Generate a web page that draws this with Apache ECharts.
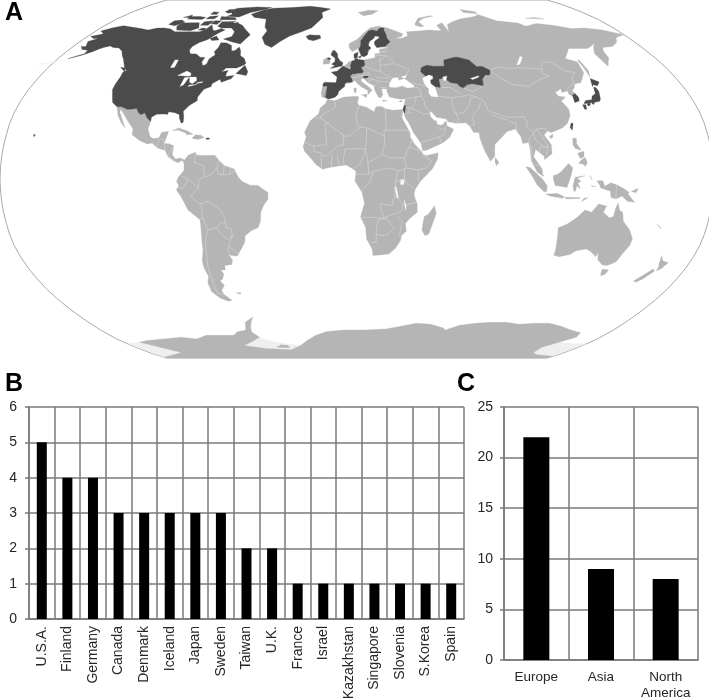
<!DOCTYPE html>
<html>
<head>
<meta charset="utf-8">
<title>Country counts</title>
<style>
  html, body { margin: 0; padding: 0; background: #fff; }
  #chart { width: 709px; height: 700px; }
</style>
<script src="https://cdn.jsdelivr.net/npm/echarts@6/dist/echarts.min.js"></script>
</head>
<body>
<div id="chart"></div>
<script>
// panel B
const countries = ['U.S.A.', 'Finland', 'Germany', 'Canada', 'Denmark', 'Iceland', 'Japan', 'Sweden', 'Taiwan', 'U.K.', 'France', 'Israel', 'Kazakhstan', 'Singapore', 'Slovenia', 'S.Korea', 'Spain']
const countryCounts = [5, 4, 4, 3, 3, 3, 3, 3, 2, 2, 1, 1, 1, 1, 1, 1, 1]

// panel C
const continents = ['Europe', 'Asia', 'North\nAmerica']
const continentCounts = [22, 9, 8]

// map outlines, [lon, lat]. Longitudes run past 180 for Chukotka because the map is centred on 10E
const northAmerica = [[-164,54.6],[-158,56.2],[-154,58],[-152,59.2],[-150,60],[-147,60.8],[-144,60],[-140,59.8],[-136,58.2],[-133,56],[-130.5,54.5],[-128,52.5],[-125,50],[-123,49],[-124.5,48.3],[-124,46],[-124.3,43],[-124,40.3],[-122,37],[-120.5,34.5],[-117.2,32.5],[-114.8,32.5],[-111,31.3],[-108.2,31.5],[-106.5,31.8],[-104.5,29.6],[-103,29],[-101.4,29.8],[-99.5,27.5],[-97.2,25.9],[-97.3,27.8],[-95,29.2],[-91,29.3],[-89.3,29.1],[-89,30.3],[-85.5,29.8],[-83,29],[-82.7,27.5],[-81.2,25.2],[-80.2,25.5],[-80.5,28],[-81.4,30.5],[-79,33.2],[-75.6,35.3],[-76,37],[-74,40.5],[-70.5,41.7],[-70.7,43],[-67,45],[-65.8,43.6],[-61,45.3],[-60,46.8],[-64.5,46.3],[-64.8,47.8],[-64.3,49],[-68,48.5],[-66,50.2],[-60,50.2],[-56.5,51.6],[-55.8,52.5],[-58,54.8],[-61,56],[-62.5,58.5],[-64.5,60.3],[-66,58.5],[-68,58.3],[-70,61],[-74,62.3],[-78,62.4],[-77.5,60],[-78.5,58],[-76.7,56.5],[-79,54.5],[-78.8,52],[-80.5,51.3],[-82.3,53],[-82,55.2],[-85,55.3],[-88.5,56.8],[-92.5,57],[-94.6,58.8],[-94.5,60.5],[-92,62.5],[-88,64],[-86,66],[-84,67.5],[-81.5,69],[-85,69.8],[-88,68.5],[-90,69],[-94,71.8],[-95.5,69],[-98,68],[-105,68],[-110,68],[-115,68],[-120,69.5],[-125,70],[-130,70],[-135,69],[-141,69.7],[-148,70.4],[-156.5,71.3],[-162,70],[-166.5,68.4],[-162,67],[-164,66.5],[-168,65.6],[-164,64.5],[-161,64.5],[-165,63],[-162,60.5],[-165,60.5],[-162,59],[-158,58.7],[-157.5,57],[-161,55.8]]
const baffin = [[-65,61.8],[-71,62.8],[-78,64.3],[-73.5,65.5],[-74,68],[-78,70],[-85,70],[-89,71],[-89,73.5],[-80,73.7],[-72,71.5],[-67,69],[-62,66.5]]
const victoriaIsland = [[-105,68.5],[-115,68.9],[-118,71],[-118,72.8],[-110,73],[-105,73],[-101,70]]
const banksIsland = [[-125.5,72],[-120,71.3],[-116,73.3],[-120,74.4],[-125,74]]
const ellesmere = [[-90,76.5],[-80,76.2],[-75,79],[-65,81.5],[-62,82.5],[-75,83],[-90,82],[-92,80],[-88,78]]
const axelHeiberg = [[-96,79.5],[-92,78.5],[-87,79.5],[-90,81.3],[-95,81]]
const devonIsland = [[-80,74.6],[-92,74.6],[-94,76.6],[-82,75.8]]
const melvilleIsland = [[-117,75],[-106,74.8],[-105,76],[-110,76.5],[-117,76.5]]
const bathurstIsland = [[-103,75],[-97,75.2],[-97,77],[-103,76.5]]
const princePatrick = [[-122,76],[-116,76],[-118,77.5]]
const ringnesIslands = [[-105,78],[-100,77.8],[-100,79],[-105,79.5]]
const princeOfWales = [[-102,71.5],[-96.5,71.5],[-96,74],[-102,73.5]]
const somerset = [[-96,72.5],[-91,72],[-90,74],[-95,74]]
const kingWilliam = [[-100,68.9],[-95.5,68.7],[-96,70],[-99,69.9]]
const bylotIsland = [[-80,72.8],[-76,72.8],[-80,73.7]]
const southampton = [[-85,63.5],[-80.5,63.8],[-84,65.8],[-87,64.5]]
const newfoundland = [[-59.3,47.7],[-53,46.7],[-52.8,48.5],[-55.8,51.5]]
const vancouverIsland = [[-128,50.6],[-123.5,48.4],[-125,50.2]]
const greenland = [[-44,60],[-49,61.5],[-53,65],[-52,68.5],[-55,70.5],[-58,75],[-68,76],[-73,78],[-66,80.8],[-60,82],[-45,82.5],[-30,83.5],[-20,82.5],[-12,81.5],[-18,79],[-16,76],[-20,72],[-22,70],[-28,68],[-35,65.8],[-40,63]]
const greatBritain = [[-5.5,50],[1.3,51.2],[1.7,52.7],[0,53.5],[-1.6,55.2],[-2,57],[-3.8,58.6],[-5,58.6],[-6,56.5],[-3.2,54.8],[-3.1,53.3],[-5,52],[-3,51.4]]
const northernIreland = [[-7.5,55.2],[-5.6,54.6],[-6.3,54.1],[-7.8,54.4]]
const iceland = [[-24,65.5],[-22,64],[-18.5,63.4],[-14,64.6],[-14.8,66.2],[-18,66.2],[-22,66.4]]
const france = [[-1.7,43.4],[3.1,42.5],[4,43.5],[7.5,43.8],[7,45.5],[6,46.3],[7.5,47.6],[8.2,49],[6,49.5],[2.5,51],[1.5,50.9],[-1.5,48.7],[-4.7,48.3],[-1.2,46]]
const spain = [[-8.9,43],[-8.8,41.9],[-6.5,41.7],[-7,39.5],[-7.4,37.2],[-6,36.3],[-5.3,36.1],[-2,36.8],[-0.5,38],[0,39.5],[3.2,41.8],[3.1,42.5],[-1.7,43.4],[-8,43.7]]
const germany = [[6,51],[7,53.5],[8.7,53.9],[9,54.8],[11,54.2],[14.2,53.9],[14.6,51.5],[12.3,50.3],[13.7,48.7],[13,47.6],[10,47.4],[7.6,47.6],[8.2,49],[6.3,49.5]]
const denmark = [[8.2,55],[8.2,56.8],[10.6,57.7],[10.3,56],[10,55]]
const zealand = [[11,55.5],[12.5,56],[12.2,55],[11,55]]
const sweden = [[11.1,59],[12.7,56],[14.3,55.5],[16.5,56.5],[16.7,58.5],[18.8,59.8],[17.2,61],[18,63],[21,64.5],[22,65.8],[24,65.8],[23.5,68],[20.5,69],[18,68.5],[15,66],[12.5,63.5],[12.3,61]]
const finland = [[22.5,60],[25,60.2],[28,60.6],[31.5,62.9],[29.8,64.5],[29.5,67],[28.5,69],[29,70],[26,70],[23.5,68.3],[20.8,69],[24,65.8],[25,65],[21.4,63],[21.3,61.5]]
const slovenia = [[13.6,45.5],[15.6,45.5],[16.5,46.5],[13.7,46.5]]
const kazakhstan = [[46.6,48.5],[49,46.4],[51,47],[53,46.8],[53,45],[51,44.5],[51,43],[52.7,41.7],[56,41.3],[56,45],[58.5,45.5],[61,44.3],[62,43.5],[66,43],[66.5,41.9],[68.5,41],[71,42.5],[74,43],[80,42.1],[80.5,45],[83,47],[85.5,47],[87,49],[83,51],[80,50.8],[77,54],[71,55.3],[69,55.3],[62,54],[61,51],[55,51],[51,51.5],[47.5,50.4]]
const israel = [[34.3,31.3],[35,29.5],[35.5,31.5],[35.7,33.2],[35,33]]
const honshu = [[130.9,34],[132.5,35.4],[136,35.7],[137,37.3],[139.5,38.5],[140.3,41.2],[141.5,41.4],[142,39.5],[140.8,36],[139.8,35],[137,34.6],[135.8,33.5],[135,34.5],[132.5,34]]
const hokkaido = [[140,41.6],[141.5,45.4],[145.3,43.8],[143,42],[141,42.5]]
const kyushu = [[130,33.5],[131.7,33.5],[131.3,31.4],[130.2,31.4]]
const shikoku = [[132.5,33.8],[134.5,34.3],[134,33.3],[132.8,32.8]]
const southKorea = [[126.3,34.5],[129,35.2],[129.4,37],[128.4,38.5],[126.6,37.7],[126.5,36]]
const taiwan = [[121,25.2],[122,25],[120.9,22],[120.1,23.2]]
const singapore = [[103.6,1.2],[104.1,1.2],[104.1,1.6],[103.6,1.6]]
const hawaii = [[-156,20.2],[-155,19.8],[-155.7,19]]
const puertoRico = [[-67.2,18.5],[-65.6,18.5],[-65.6,17.9],[-67.2,17.9]]

const mexico = [[-117.2,32.5],[-114.8,32.5],[-111,31.3],[-108.2,31.5],[-106.5,31.8],[-104.5,29.6],[-103,29],[-101.4,29.8],[-99.5,27.5],[-97.2,25.9],[-97.8,22.5],[-96,19],[-94.5,18.2],[-91.5,18.5],[-90.5,21],[-87,21.5],[-87.7,18.5],[-88.5,16],[-86,15.9],[-83.3,15],[-83.7,11],[-82,9],[-79.5,9.5],[-77.3,8.6],[-77.9,7.3],[-78.5,8.5],[-80.5,7.3],[-83,8.3],[-85.7,10],[-87.6,13],[-91.5,14],[-94.5,16.2],[-97,15.8],[-101.5,17.5],[-105.5,20],[-105.5,22.5],[-109,26],[-112.5,29.5],[-114.7,31.5],[-114.5,30],[-111,25],[-109.8,23],[-112,25],[-115,28.5]]
const southAmerica = [[-77.3,8.6],[-75.5,10.8],[-72,12],[-71.5,10.8],[-68,10.6],[-62,10.7],[-60,8.5],[-57,6],[-52,4.5],[-50,1],[-48,-1],[-44,-2.8],[-40,-2.9],[-37,-4.8],[-35,-6],[-35,-9],[-37.5,-12],[-39,-15],[-39.5,-19],[-41,-22],[-44,-23],[-48,-25.5],[-48.7,-28.5],[-52,-32.5],[-54,-34.7],[-57,-34.5],[-58.5,-34],[-57,-36.5],[-58,-38.5],[-62,-39],[-62.5,-41],[-65,-41],[-64,-42.8],[-65.5,-45],[-67.5,-46],[-66,-48],[-69,-50.5],[-68.5,-52.5],[-65.5,-55],[-68,-55.5],[-72,-54],[-75,-51],[-75,-47],[-73,-44],[-73.7,-40],[-73.5,-37],[-71.5,-32],[-71,-28],[-70.3,-20],[-70.5,-18.3],[-76,-14],[-79,-8],[-81.2,-5],[-80,-3],[-81,-1],[-80,1],[-78.5,2.5],[-77.3,4],[-77.5,7],[-77.9,7.3]]
const africa = [[-5.9,35.8],[-2,35.2],[3,36.9],[10,37.3],[11,36.8],[10.2,34.3],[11,33.2],[15,32.3],[19,30.3],[20,32.5],[23,32.7],[25,31.7],[29,31],[32,31.2],[34.2,31.3],[33.6,28],[32.5,30],[33.5,27.5],[35.5,24],[37.2,21],[37.5,18.5],[39.5,15.5],[43,12.3],[43.2,11.5],[45,10.5],[51.2,11.8],[50.8,9],[48,4.5],[42,-1],[39.5,-4.5],[38.8,-6.5],[39.5,-9],[40.5,-11],[40.7,-15],[37,-17.8],[34.8,-20],[35.5,-23.5],[33,-25.5],[32.8,-27.5],[30.5,-31],[27,-33.8],[22,-34.2],[18.5,-34.5],[18,-31.5],[15,-27],[14.5,-22],[11.8,-17],[13.8,-11],[12.5,-6],[9,-1],[9.5,3.5],[8,4.5],[4.5,6.3],[1,5.9],[-4,5.2],[-7.5,4.4],[-11,6.8],[-13.5,9.5],[-16.7,12.5],[-17.4,14.7],[-16,19],[-17,21],[-14.5,26],[-10,29.5],[-9.5,32],[-6.8,34]]
const madagascar = [[49.3,-12],[50.4,-15.5],[47.2,-24.8],[45.2,-25.5],[43.5,-23],[44.3,-17],[46.5,-15.8]]
const eurasia = [[-9,37],[-9.5,38.7],[-8.8,43],[-1.5,43.5],[-1.2,46],[-4.7,48.3],[-1.5,48.7],[1.5,50.8],[4,52],[5,53.2],[8.5,53.7],[8.2,56.5],[10.7,57.7],[10.2,55],[11,54],[14,54],[18.5,54.7],[21,55.2],[21,57],[24,57.2],[24,59.2],[28,59.6],[30,60],[25,60.2],[22.5,60],[21.3,61.5],[21.3,63],[25,65],[22,65.8],[18,63],[17,61],[18.8,59.8],[16.5,57],[14.5,56],[12.8,55.5],[11,58.8],[10.5,59.5],[7,58],[5,60],[5,62],[10,64],[14,67],[19,70],[25,71],[31,70.2],[41,67],[40,65.7],[35,64.5],[40,64.7],[44,66],[44,68],[54,68.5],[60,69],[68,68.5],[67,71.5],[72,73],[73,68],[75,72],[80,73.5],[87,75],[100,76.5],[104.5,77.7],[113,74],[127,72.8],[130,71],[140,72.5],[150,71.5],[160,69.7],[170,70],[180,69],[190,66.5],[182,65],[178,62.5],[172,60.5],[165,60],[163,58],[162,55],[157,51],[156,57],[160,60.5],[163,62],[155,59.5],[143,59.5],[135.5,54.7],[141,53],[140,48],[135,43.5],[131,42.8],[129.5,41],[127.5,39.7],[129.4,37],[129,35.2],[126.3,34.5],[126.6,37.5],[125,38],[125,39.7],[121.5,39],[122,40.7],[118,39],[119,37.3],[122.5,37],[119.3,35],[121.8,31.5],[121.5,28.5],[119,25],[116,23],[113,22],[110,21],[108,21.6],[106,19.8],[109,15.5],[109,11.5],[105,8.7],[104.8,10.3],[100.8,13.4],[99.5,10],[103.5,4.5],[103.8,1.4],[101,3],[98.3,8],[98,14],[97.5,16.5],[94.5,16],[94,19],[91.7,22.5],[89,21.8],[87,21.3],[85,19.5],[80.3,15.5],[80,13],[79.8,10.3],[77.5,8],[75,12.5],[73,18],[72.7,21],[70,21],[68.5,23.5],[66.5,25.3],[61.5,25.1],[57.3,25.8],[56.5,27],[51.5,27.8],[49,30.4],[48,30],[48.5,28],[50,26.5],[51.3,26.1],[51.5,24.5],[54,24.2],[56.3,26.2],[56.6,24],[59.8,22.4],[57.7,19],[55,17],[52,15.5],[45,12.8],[43.3,12.7],[42.7,16],[39,21],[37,25],[35,28],[34.8,29.5],[34.2,31.3],[34.9,32.8],[36,36],[32.5,36.1],[30.5,36.4],[27.5,37],[26.3,39.5],[26.5,40.5],[24,40.8],[23.5,40],[24,38],[22.8,36.5],[21.5,37],[19.5,40.5],[19.5,42],[16,43.5],[13.7,45.5],[12.3,45.3],[12.5,44],[16,41.8],[18.4,40],[17,39],[16,38],[15.8,40],[12.5,41.5],[10.3,43],[8.8,44.4],[6,43.2],[3.2,43.3],[3.2,41.8],[0,39.5],[-0.5,38],[-2,36.8],[-5.5,36]]
const ireland = [[-10,52],[-6.2,52.2],[-6,54],[-7.5,55.2],[-10,54.2]]
const cuba = [[-85,21.8],[-82,23],[-77,21.5],[-74.2,20.2],[-77.5,19.9],[-78,20.7],[-82,22]]
const hispaniola = [[-74.5,18.4],[-73,19.9],[-69.9,19.7],[-68.4,18.6],[-71.5,17.8]]
const novayaZemlya = [[51.5,71.5],[55,70.7],[57.5,71],[55,73.5],[60,75.5],[68.5,76.8],[66,77],[56,75.5],[52,72.5]]
const svalbard = [[11,79],[15,77],[22,78],[27,80],[20,80.5]]
const severnayaZemlya = [[95,79],[105,78.2],[105,79.5],[95,81]]
const newSiberia = [[137,75.5],[150,75],[145,76]]
const sakhalin = [[142,46],[143.5,49],[143,54],[142,54],[142,50]]
const sicily = [[12.5,38],[15.6,38.2],[15,36.7]]
const sardinia = [[8.3,41],[9.7,41],[9.5,39],[8.5,39]]
const crete = [[23.5,35.6],[26.3,35.3],[24,34.9]]
const cyprus = [[32.3,35],[34.5,35.6],[33.5,34.6]]
const sriLanka = [[80,9.7],[81.8,7.5],[80.5,6],[79.8,7.5]]
const hainan = [[108.7,19.3],[110.5,20],[110.3,18.7],[109,18.2]]
const sumatra = [[95.3,5.5],[97.5,5.2],[103.5,0],[106,-3],[105.8,-5.8],[104.5,-5.8],[101,-2.8],[98,1.8]]
const java = [[105.2,-6.8],[108.5,-6.7],[111,-6.4],[114.5,-7.8],[114.4,-8.7],[108,-7.8]]
const borneo = [[109,1.5],[111,2],[113,3.3],[117,7],[119,5],[117.8,1],[116,-3.8],[114,-3.5],[110,-2.9],[109,0]]
const sulawesi = [[119.5,-5.5],[119,-3],[120,0.8],[125,1.5],[121,0.3],[123,-1],[121.5,-1.8],[122.8,-4.5],[121,-3],[120.3,-5.5]]
const newGuinea = [[131,-0.8],[134,-0.8],[135,-3.3],[138,-1.7],[141,-2.6],[145,-4.5],[147.5,-6],[147,-6.8],[150.7,-10.5],[147,-10],[144,-7.7],[141,-9],[138.5,-8.3],[138,-5.5],[133,-4],[132.5,-2.8]]
const luzon = [[120.5,18.5],[122.3,18.3],[122,16],[124,13],[121,13.7],[120,15.5]]
const mindanao = [[122,7],[123.7,8.7],[125.5,9.7],[126.5,7.5],[125.5,5.8],[124,6.8]]
const visayas = [[122,11.7],[125.3,12.5],[125,10],[123,9.2]]
const timor = [[123.5,-10.3],[127,-8.4],[125,-8.7]]
const lesserSunda = [[115,-8.2],[119,-8.3],[122.8,-8.3],[122.8,-8.8],[116,-9]]
const halmahera = [[127.5,1.5],[128.5,-0.5],[128,1]]
const seram = [[128,-3],[130.8,-3.3],[129,-3.4]]
const newBritain = [[148.5,-5.6],[152,-4.2],[151,-6.2]]
const australia = [[113.7,-22],[114.2,-26],[115,-31.5],[115,-34.3],[118,-35],[123.5,-34],[126,-32.3],[131,-31.5],[134,-32.7],[137.7,-35],[138,-33],[139.7,-36.5],[143.5,-38.8],[146.3,-39],[150,-37.3],[151.3,-33.7],[153.2,-30],[153.5,-27],[150.8,-23],[146.5,-19],[145.3,-15],[143.5,-14],[142.5,-10.8],[141.5,-13],[141,-17],[139,-17.5],[135.5,-15],[136.7,-12.2],[132.5,-11.3],[129.5,-15],[126,-14],[122.3,-17.5],[118,-20.3]]
const tasmania = [[144.7,-40.7],[148.3,-40.9],[148,-43],[146,-43.6],[145.3,-42.5]]
const newZealandNorth = [[172.7,-34.5],[174.8,-36.8],[178.5,-37.7],[176.8,-40.5],[175,-41.5],[174.8,-39.5],[174,-38.5]]
const newZealandSouth = [[172.5,-40.6],[174.2,-41.5],[171,-45],[168.5,-46.6],[166.5,-46],[170,-43]]
const falklands = [[-61,-51.5],[-58,-51.5],[-59,-52.2]]
const newCaledonia = [[164,-20.2],[167,-22.3],[166,-22]]
const antarctica = [[-158,-77],[-150,-76],[-135,-75],[-120,-74],[-110,-75],[-100,-73],[-90,-73],[-80,-73],[-75,-71],[-68,-70],[-65,-66],[-58,-63.3],[-60,-65],[-63,-68],[-65,-71],[-62,-74],[-72,-77],[-80,-79],[-65,-81],[-45,-82],[-35,-79],[-28,-76],[-20,-73],[-12,-71],[0,-70],[15,-70],[30,-69.5],[40,-68],[50,-66.5],[60,-67],[70,-69],[72,-70],[80,-67.5],[90,-66.5],[100,-66],[110,-66],[120,-67],[130,-66.5],[140,-66.5],[150,-68],[160,-70],[170,-71.5],[172,-74],[166,-77],[160,-80],[163,-84],[170,-86],[190,-88],[190,-90],[-170,-90],[-170,-89],[-142,-84],[-150,-80]]
const berknerIsland = [[-50,-78.5],[-45,-79],[-45,-80.5],[-55,-80]]

const rossShelfEast = [[160,-79],[166,-77],[180,-78],[190,-78],[190,-88],[170,-86],[163,-84]]
const rossShelfWest = [[-170,-78],[-158,-77],[-150,-80],[-142,-84],[-170,-89]]
const weddellShelf = [[-62,-74],[-72,-77],[-80,-79],[-65,-81],[-45,-82],[-35,-79],[-45,-78],[-60,-75.5]]
const aleutians = [[-178,51.8],[-170,52.8],[-165,54],[-165,54.4],[-170,53.2],[-178,52.1]]

const blackSea = [[28,41.5],[28,43],[30,45.5],[33,45.8],[33.5,44.5],[36.5,45.2],[38,44.5],[41.5,42],[41.5,41.5],[38,41],[35,42],[31.5,41.2]]
const azovSea = [[35,46],[38.5,47],[37,45.5]]
const caspianSea = [[47,45.5],[51,47],[53,46],[51,44.5],[51,43],[53,41.5],[53.8,37],[50,37.3],[49,39],[49.5,40.5],[47.5,43]]
const aralSea = [[58.5,46],[61,46.5],[60,44.5],[58.8,44.5]]
const balkhash = [[74,45.4],[79,46.6],[79,46],[75,44.9]]
const baikal = [[104,51.6],[109,55.7],[110,55.2],[106,52]]
const lakeSuperior = [[-92,46.8],[-88,48.8],[-85,47.8],[-84.7,46.5],[-87,46.5]]
const lakeMichigan = [[-87.8,41.7],[-87.5,45.7],[-85,46],[-86.2,42.5]]
const lakeHuron = [[-84.7,46],[-81,46],[-80,44.5],[-81.7,43],[-83.5,43.7]]
const lakeErie = [[-83.3,41.7],[-79,42.6],[-79,43],[-83,42.4]]
const lakeOntario = [[-79.7,43.3],[-76.3,44],[-76.3,43.5],[-79,43.1]]
const lakeWinnipeg = [[-98.8,50.5],[-99,54],[-97,54],[-96.5,50.5]]
const lakeVictoria = [[32,-0.3],[34,-0.3],[33.5,-2.5],[32,-2.5]]
const lakeMalawi = [[33.9,-9.5],[35,-12],[34.8,-14.2],[34.2,-12]]
const lakeTanganyika = [[29,-3.5],[29.8,-3.5],[31,-8.5],[30.3,-8.5]]

const darkRings = [northAmerica, baffin, victoriaIsland, banksIsland, ellesmere, axelHeiberg, devonIsland, melvilleIsland, bathurstIsland, princePatrick, ringnesIslands, princeOfWales, somerset, kingWilliam, bylotIsland, southampton, newfoundland, vancouverIsland, greenland, greatBritain, northernIreland, iceland, france, spain, germany, denmark, zealand, sweden, finland, slovenia, kazakhstan, israel, honshu, hokkaido, kyushu, shikoku, southKorea, taiwan, singapore, hawaii, puertoRico]
const lightRings = [mexico, southAmerica, africa, madagascar, eurasia, ireland, cuba, hispaniola, novayaZemlya, svalbard, severnayaZemlya, newSiberia, sakhalin, sicily, sardinia, crete, cyprus, sriLanka, hainan, sumatra, java, borneo, sulawesi, newGuinea, luzon, mindanao, visayas, timor, lesserSunda, halmahera, seram, newBritain, australia, tasmania, newZealandNorth, newZealandSouth, falklands, newCaledonia, antarctica, berknerIsland]
const iceRings = [rossShelfEast, rossShelfWest, weddellShelf, aleutians]
const waterRings = [blackSea, azovSea, caspianSea, aralSea, balkhash, baikal, lakeSuperior, lakeMichigan, lakeHuron, lakeErie, lakeOntario, lakeWinnipeg, lakeVictoria, lakeMalawi, lakeTanganyika]

// borders, drawn as thin pale lines over the land
const borderLines = [
  [[-2,35],[-1.2,32.5],[-8.7,28.7],[-8.7,27.3]],
  [[-8.7,27.3],[-13,27.7]],
  [[-8.7,27.3],[-4.8,25],[1.2,21],[4,19.2],[6,19.4],[12,23.5]],
  [[-4.8,25],[-6.5,25],[-5.5,15.5],[-12,14.8],[-16.5,16.3]],
  [[1.2,21],[3.2,19],[3.2,15.4],[0.5,15],[-5.5,10.5],[-8,10.3],[-8.3,11.8],[-12,12.4],[-12,14.8]],
  [[9.5,30],[11.5,33]],
  [[9.5,30],[10,24.5],[12,23.5],[15,23],[24,19.5],[24,22],[25,22],[25,31.5]],
  [[25,22],[36.8,22]],
  [[15,23],[14.5,13],[13.6,13.7]],
  [[24,19.5],[24,15.7],[22.5,11],[18.5,8.9],[15.5,7.5],[14.5,12.5]],
  [[2.7,6.3],[3.6,11.7],[4,13.5],[13.6,13.7],[14.2,12],[11.5,6.7],[8.6,4.7]],
  [[22.5,11],[27,9.5],[34,9.5],[36.5,14.3],[38.5,18]],
  [[27,5],[30.8,3.6],[34,4.5],[35,5],[34,9.5]],
  [[15.5,7.5],[16,2.2],[18.5,3.5],[27,5]],
  [[12.5,-5.9],[13,-4.5],[16,-2],[18.5,3.5]],
  [[30.8,3.6],[29.5,-1],[29,-8],[30.5,-8.2],[28.5,-9],[28,-12],[22,-11],[22,-13],[24,-17.5]],
  [[12,-17.2],[24,-17.5],[28,-16],[30.5,-15.5],[33,-14],[33,-11],[30.5,-8.2]],
  [[30.8,-17],[33,-19],[32,-26]],
  [[35,-11.5],[40.5,-10.5]],
  [[29.5,-1],[34,-1],[37.7,-3.5],[39.4,-4.7]],
  [[34,-1],[34,4.5]],
  [[35,5],[41,4],[41,-1.5]],
  [[41,4],[45,5],[48,8],[43,11]],
  [[36.5,14.3],[43,12.5]],
  [[20,-22],[20,-28.5],[17,-28.5]],
  [[20,-22],[21,-18.3],[25,-17.8],[29,-22],[26,-25],[23,-25.5],[20,-25]],
  [[-3,5],[-2.7,11]],
  [[1,6],[0,11]],
  [[-8,4.5],[-8,10]],
  [[9.5,2.2],[16,2.2]],
  [[-71.5,12],[-72.5,7.5],[-67.5,6],[-67,1.2]],
  [[-67,1.2],[-70,-0.5],[-70,-4.2],[-75,-0.1],[-78.5,1.3]],
  [[-75,-0.1],[-78.5,-4.5],[-80.3,-3.5]],
  [[-70,-4.2],[-74,-7.5],[-70.5,-11],[-69,-11]],
  [[-69,-11],[-69,-17],[-70.4,-18.3]],
  [[-69,-11],[-65.3,-10],[-60,-13.5],[-58,-16.3],[-57.5,-20],[-60,-19.5],[-62.5,-22],[-67,-23],[-69,-17]],
  [[-67,-23],[-69,-27],[-70,-33],[-71.5,-40],[-72,-48],[-72,-52],[-68.5,-52.3]],
  [[-62.5,-22],[-58,-27.3],[-54.6,-25.6],[-55,-22.3],[-57.5,-22],[-57.5,-20]],
  [[-54.6,-25.6],[-57.5,-30],[-58.3,-34]],
  [[-57.5,-30.2],[-53.3,-33.7]],
  [[-60,8.5],[-60.8,5],[-60,2],[-56,2],[-54,2.2],[-51.7,4]],
  [[-57,6],[-57.5,2]],
  [[-54,5.8],[-54,2.2]],
  [[-67,1.2],[-64,1.5],[-60.8,5]],
  [[-92,14.5],[-91,17.8],[-89,17.8],[-88.2,15.7],[-87.5,13]],
  [[-83.2,15],[-85.7,11],[-83,8.3]],
  [[36,36],[42,37],[44.5,37.3],[44.8,39.7],[43.5,41.1],[41.5,41.5]],
  [[44.5,37.3],[46,35],[46,33],[48.5,30]],
  [[48,29.5],[44.7,29.2],[39,32],[36,32.3]],
  [[39,32],[41,34.3],[42,37]],
  [[39,32],[37,31],[38,30],[35,29.4]],
  [[43,16.5],[52,19],[55,20],[56,24]],
  [[52,23],[55,22]],
  [[52,19],[53,16.7]],
  [[61,36.6],[61,31.5],[63,27],[61.5,25]],
  [[54,37.3],[61,36.6]],
  [[61,29.5],[66,29.8],[70,33.5],[71,36.5],[74.5,37]],
  [[61,36.6],[64,37],[67,37.3],[71,38],[74.5,37]],
  [[56,41.3],[61.5,41.2],[66.5,38]],
  [[68.5,41],[73,39.5],[74,39.5],[80,42.1]],
  [[40,43.5],[48,41.8]],
  [[24,48],[30,45.5]],
  [[24,51.5],[32,52.3],[40,49.7],[38.2,47.1]],
  [[23.5,53.8],[28,56],[32,53]],
  [[14.6,51],[18.8,49.5],[24,48.5],[23.5,50.3],[23.5,54]],
  [[21,56.3],[28,56]],
  [[24,57.9],[28,57.8],[28,59.5]],
  [[20.5,46],[28,45.4]],
  [[22.5,44],[28,43.8]],
  [[22.5,41.3],[26.3,41.3]],
  [[9.5,47.5],[17,48],[16.5,46.7],[9.5,47]],
  [[7,45.5],[13.7,46.5]],
  [[13.7,45.5],[19,45],[22.5,44],[20,42],[19.5,42.5]],
  [[19,45],[16,43.7]],
  [[-7,42],[-7,37.2]],
  [[2.5,51],[6,50],[6,51]],
  [[87,49],[92,50.7],[98,50],[102,50.3],[106,50.3],[114,50],[117,49.5],[120,53],[125,53],[130.5,48.5],[135,48.3],[131,45],[131,42.8]],
  [[87,49],[91,45.5],[96,42.7],[105,41.7],[112,44.7],[119.5,46.7],[116,47.8],[117,49.5]],
  [[74.5,37],[78,35],[79,31],[81,30.2],[88,27.8],[92,27.8],[97.3,28.2],[98.5,25],[97.5,24],[99.5,22],[101.5,21.2],[102.5,22.5],[106.5,22.8],[108,21.6]],
  [[80,29],[88,26.5]],
  [[89,26],[92.5,25],[92.3,21]],
  [[101,21],[97.7,17.5],[99,12],[98.5,10]],
  [[101,21],[101,17.7],[105.5,14.3],[107.5,14.5],[105,19],[102.5,22.5]],
  [[102.7,12],[103,14.3],[107.5,14.5],[106,11]],
  [[124.5,40],[128,42],[130.5,42.5]],
  [[68,23.8],[71,24.5],[70,28],[74.5,32],[76,34.5]],
  [[100.2,6.5],[102,6]],
  [[141,-2.6],[141,-9]]
]

// Robinson table, one row every 5 degrees of latitude
const robinsonLats = [0, 5, 10, 15, 20, 25, 30, 35, 40, 45, 50, 55, 60, 65, 70, 75, 80, 85, 90]
const robinsonLength = [1, 0.9986, 0.9954, 0.99, 0.9822, 0.973, 0.96, 0.9427, 0.9216, 0.8962, 0.8679, 0.835, 0.7986, 0.7597, 0.7186, 0.6732, 0.6213, 0.5722, 0.5322]
const robinsonDepth = [0, 0.062, 0.124, 0.186, 0.248, 0.31, 0.372, 0.434, 0.4958, 0.5571, 0.6176, 0.6769, 0.7346, 0.7903, 0.8435, 0.8936, 0.9394, 0.9761, 1]

const centerLon = 10
const mapHalfWidth = 357
const mapHalfHeight = 179

const lookup = (table, lat) => {
  const p = Math.min(Math.abs(lat), 90) / 5
  const i = Math.min(Math.floor(p), 17)
  return table[i] + (table[i + 1] - table[i]) * (p - i)
}

const robinson = {
  project: ([lon, lat]) => [
    mapHalfWidth + mapHalfWidth * lookup(robinsonLength, lat) * (lon - centerLon) / 180,
    mapHalfHeight - mapHalfHeight * lookup(robinsonDepth, lat) * Math.sign(lat)
  ],
  unproject: ([x, y]) => {
    const d = Math.min(Math.abs(y - mapHalfHeight) / mapHalfHeight, 1)
    let i = 0
    while (i < 17 && robinsonDepth[i + 1] < d) i++
    const absLat = 5 * (i + (d - robinsonDepth[i]) / (robinsonDepth[i + 1] - robinsonDepth[i]))
    const lat = y > mapHalfHeight ? -absLat : absLat
    return [centerLon + 180 * (x - mapHalfWidth) / mapHalfWidth / lookup(robinsonLength, lat), lat]
  }
}

const frameRing = [
  ...robinsonLats.slice().reverse().map(lat => [centerLon + 180, lat]),
  ...robinsonLats.slice(1).map(lat => [centerLon + 180, -lat]),
  ...robinsonLats.slice().reverse().map(lat => [centerLon - 180, -lat]),
  ...robinsonLats.slice(1).map(lat => [centerLon - 180, lat])
]

const feature = (name, rings) => ({
  type: 'Feature',
  properties: { name },
  geometry: { type: 'MultiPolygon', coordinates: rings.map(r => [[...r, r[0]]]) }
})

echarts.registerMap('world', {
  type: 'FeatureCollection',
  features: [
    feature('frame', [frameRing]),
    feature('ice', iceRings),
    feature('land', lightRings),
    feature('dark', darkRings),
    feature('water', waterRings)
  ]
})

const chart = echarts.init(document.getElementById('chart'), null, { renderer: 'canvas' })

const labelFont = { fontFamily: 'Liberation Sans, Arial, sans-serif', fontSize: 13.5, color: '#262626' }
const gridLine = { color: '#7a7a7a', width: 1.5 }
const panelTitle = (text, left, top) => ({
  text, left, top, padding: 0,
  textStyle: { fontFamily: 'Liberation Sans, Arial, sans-serif', fontSize: 25, fontWeight: 'bold', color: '#000' }
})

const plainColor = color => ({ itemStyle: { areaColor: color, borderColor: color, borderWidth: 0.3 } })

chart.setOption({
  animation: false,
  backgroundColor: '#fff',
  title: [panelTitle('A', 5, 1), panelTitle('B', 5, 372), panelTitle('C', 457, 372)],
  geo: {
    map: 'world',
    projection: robinson,
    left: 0,
    top: 0,
    width: mapHalfWidth * 2,
    height: mapHalfHeight * 2,
    silent: true,
    roam: false,
    label: { show: false },
    itemStyle: { areaColor: '#b5b5b5', borderColor: '#b5b5b5', borderWidth: 0.3 },
    regions: [
      { name: 'frame', itemStyle: { areaColor: '#fff', borderColor: '#a9a9a9', borderWidth: 1 } },
      { name: 'ice', ...plainColor('#efefef') },
      { name: 'land', ...plainColor('#b5b5b5') },
      { name: 'dark', ...plainColor('#4b4b4b') },
      { name: 'water', ...plainColor('#ffffff') }
    ]
  },
  // the Kazakhstan label runs to the page edge, so the grid must not shrink to fit it
  grid: [
    { left: 29, top: 407, width: 435, height: 212, outerBoundsMode: 'none' },
    { left: 504, top: 407, width: 194, height: 253, outerBoundsMode: 'none' }
  ],
  xAxis: [0, 1].map(i => ({
    type: 'category',
    gridIndex: i,
    data: i === 0 ? countries : continents,
    axisLine: { lineStyle: gridLine },
    axisTick: { alignWithLabel: true, length: 3, lineStyle: gridLine },
    splitLine: { show: true, lineStyle: gridLine },
    axisLabel: i === 0
      ? { ...labelFont, fontSize: 14, rotate: 90, interval: 0, margin: 7, hideOverlap: false }
      : { ...labelFont, interval: 0, margin: 9, lineHeight: 16 }
  })),
  yAxis: [[6, 1, 12], [25, 5, 11]].map(([max, interval, margin], i) => ({
    type: 'value',
    gridIndex: i,
    min: 0,
    max,
    interval,
    axisLine: { show: true, lineStyle: gridLine },
    axisTick: { show: true, length: 4, lineStyle: gridLine },
    splitLine: { show: true, lineStyle: gridLine },
    axisLabel: { ...labelFont, fontSize: 14, margin }
  })),
  series: [
    {
      type: 'lines',
      coordinateSystem: 'geo',
      polyline: true,
      silent: true,
      lineStyle: { color: '#d9d9d9', width: 0.6, opacity: 1 },
      data: borderLines.map(coords => ({ coords }))
    },
    { type: 'bar', xAxisIndex: 0, yAxisIndex: 0, data: countryCounts, barWidth: 10, itemStyle: { color: '#000' }, silent: true },
    { type: 'bar', xAxisIndex: 1, yAxisIndex: 1, data: continentCounts, barWidth: 26, itemStyle: { color: '#000' }, silent: true }
  ]
})
</script>
</body>
</html>
